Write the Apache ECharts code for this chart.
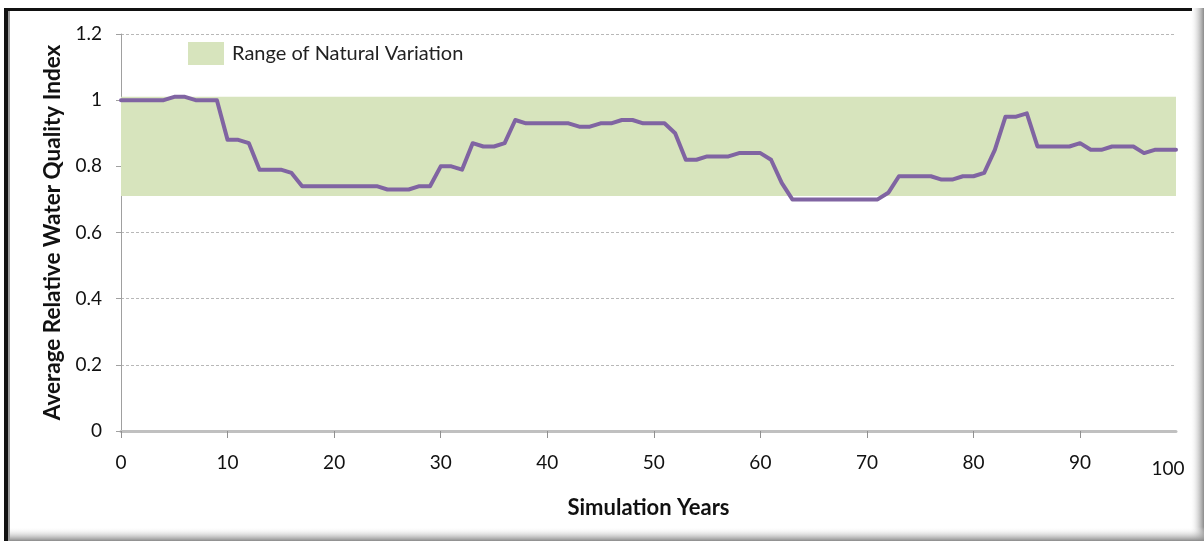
<!DOCTYPE html>
<html>
<head>
<meta charset="utf-8">
<script src="https://cdn.jsdelivr.net/npm/echarts@6/dist/echarts.min.js"></script>
<style>
  html, body { margin: 0; padding: 0; background: #fff; }
  #chart { width: 1204px; height: 541px; }
</style>
</head>
<body>
<div id="chart"></div>
<script>
// simulation years 0..99
var years = [];
for (var i = 0; i < 100; i++) years.push(i);

// average relative water quality index
var quality = [
  1, 1, 1, 1, 1, 1.01, 1.01, 1, 1, 1,
  0.88, 0.88, 0.87, 0.79, 0.79, 0.79, 0.78, 0.74, 0.74, 0.74,
  0.74, 0.74, 0.74, 0.74, 0.74, 0.73, 0.73, 0.73, 0.74, 0.74,
  0.80, 0.80, 0.79, 0.87, 0.86, 0.86, 0.87, 0.94, 0.93, 0.93,
  0.93, 0.93, 0.93, 0.92, 0.92, 0.93, 0.93, 0.94, 0.94, 0.93,
  0.93, 0.93, 0.90, 0.82, 0.82, 0.83, 0.83, 0.83, 0.84, 0.84,
  0.84, 0.82, 0.75, 0.70, 0.70, 0.70, 0.70, 0.70, 0.70, 0.70,
  0.70, 0.70, 0.72, 0.77, 0.77, 0.77, 0.77, 0.76, 0.76, 0.77,
  0.77, 0.78, 0.85, 0.95, 0.95, 0.96, 0.86, 0.86, 0.86, 0.86,
  0.87, 0.85, 0.85, 0.86, 0.86, 0.86, 0.84, 0.85, 0.85, 0.85
];

// range of natural variation (low, high)
var bandRange = [0.71, 1.01];

var xLabelValues = [0, 10, 20, 30, 40, 50, 60, 70, 80, 90, 99];
var xTickValues = [0, 10, 20, 30, 40, 50, 60, 70, 80, 90];

var lineData = years.map(function (y, k) { return [y, quality[k]]; });

var font = 'Lato, "Open Sans", sans-serif';

var option = {
  animation: false,
  backgroundColor: '#fff',
  textStyle: { fontFamily: font },
  grid: { left: 121, right: 28, top: 34, bottom: 110 },
  legend: {
    left: 183,
    top: 37,
    itemWidth: 36,
    itemHeight: 23,
    itemGap: 6,
    data: [{ name: 'Range of Natural Variation', icon: 'rect' }],
    textStyle: { fontSize: 20, color: '#222', fontFamily: font, padding: [0, 0, 0, 3] }
  },
  xAxis: {
    type: 'value',
    min: 0,
    max: 99,
    interval: 10,
    name: 'Simulation Years',
    nameLocation: 'middle',
    nameGap: 66,
    nameTextStyle: { fontSize: 22, fontWeight: 'bold', color: '#111' },
    axisLine: { lineStyle: { color: '#c0c0c0', width: 3 } },
    axisTick: { show: true, length: 7, lineStyle: { color: '#909090' }, customValues: xTickValues },
    axisLabel: {
      fontSize: 19,
      color: '#111',
      margin: 22,
      customValues: xLabelValues,
      // last label reads "100", set a little left of and below the axis end
      formatter: function (v) {
        return v === 99 ? '{end|100}' : String(v);
      },
      rich: { end: { fontSize: 19, color: '#111', padding: [6, 16, 0, 0] } }
    },
    splitLine: { show: false }
  },
  yAxis: {
    type: 'value',
    min: 0,
    max: 1.2,
    interval: 0.2,
    name: 'Average Relative Water Quality Index',
    nameLocation: 'middle',
    nameGap: 55,
    nameTextStyle: { fontSize: 22.5, fontWeight: 'bold', color: '#111' },
    axisLine: { show: true, lineStyle: { color: '#a0a0a0', width: 1 } },
    axisTick: { show: true, length: 5, lineStyle: { color: '#a0a0a0' } },
    axisLabel: { fontSize: 19, color: '#111', margin: 19 },
    splitLine: { show: true, lineStyle: { color: '#b8b8b8', type: [3, 2], width: 1 } }
  },
  series: [
    {
      name: 'Range of Natural Variation',
      type: 'line',
      data: [],
      z: 1,
      itemStyle: { color: '#d7e4bd' },
      lineStyle: { color: '#d7e4bd' },
      markArea: {
        silent: true,
        itemStyle: { color: '#d7e4bd', opacity: 1 },
        data: [[{ xAxis: 0, yAxis: bandRange[0] }, { xAxis: 99, yAxis: bandRange[1] }]]
      }
    },
    {
      name: 'Water Quality',
      type: 'line',
      data: lineData,
      z: 5,
      showSymbol: false,
      lineStyle: { color: '#8064a2', width: 4, join: 'round', cap: 'round' },
      itemStyle: { color: '#8064a2' }
    }
  ],
  graphic: [
    {
      type: 'rect', z: 100, silent: true,
      shape: { x: 1190, y: 8, width: 14, height: 533 },
      style: {
        fill: { type: 'linear', x: 0, y: 0, x2: 1, y2: 0,
          colorStops: [{ offset: 0, color: 'rgba(255,255,255,0)' }, { offset: 1, color: '#8a8a8a' }] }
      }
    },
    {
      type: 'rect', z: 100, silent: true,
      shape: { x: 8, y: 527, width: 1196, height: 14 },
      style: {
        fill: { type: 'linear', x: 0, y: 0, x2: 0, y2: 1,
          colorStops: [{ offset: 0, color: 'rgba(255,255,255,0)' }, { offset: 1, color: '#8a8a8a' }] }
      }
    },
    {
      type: 'rect', z: 101, silent: true,
      shape: { x: 4, y: 8, width: 1188, height: 3 },
      style: { fill: '#111' }
    },
    {
      type: 'rect', z: 101, silent: true,
      shape: { x: 4, y: 8, width: 4, height: 533 },
      style: { fill: '#111' }
    },
    {
      type: 'rect', z: 101, silent: true,
      shape: { x: 8, y: 11, width: 2, height: 530 },
      style: { fill: '#9a9a9a' }
    }
  ]
};

var chart = echarts.init(document.getElementById('chart'));
chart.setOption(option);
</script>
</body>
</html>
